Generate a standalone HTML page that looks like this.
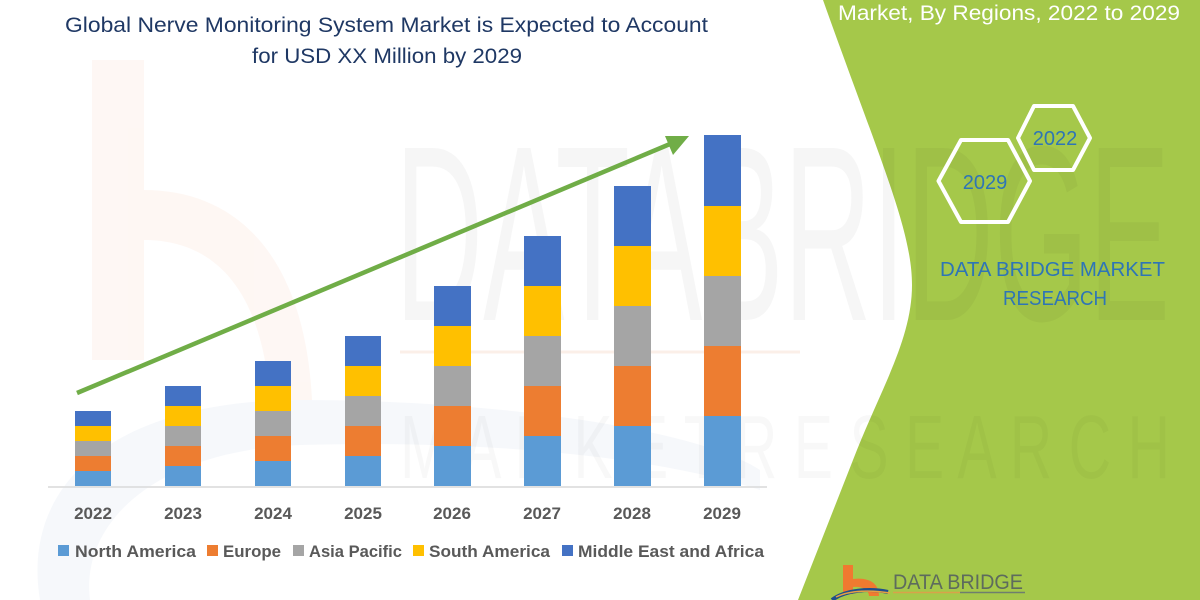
<!DOCTYPE html>
<html><head><meta charset="utf-8"><style>
html,body{margin:0;padding:0;background:#fff;}
svg{display:block;}
</style></head><body>
<svg width="1200" height="600" viewBox="0 0 1200 600" xmlns="http://www.w3.org/2000/svg" font-family="Liberation Sans, sans-serif">
<rect width="1200" height="600" fill="#ffffff"/>
<!-- faint background logo -->
<g opacity="0.35">
<rect x="92" y="60" width="52" height="300" fill="#fde9df"/>
<path d="M144,190 C240,190 305,260 312,400 L270,400 C262,290 215,240 144,240 Z" fill="#fde9df"/>
<path d="M40,600 C20,480 120,400 300,400 C500,400 700,430 760,470 L760,490 C650,455 480,440 300,445 C160,450 80,520 90,600 Z" fill="#e6ecf4"/>
</g>
<!-- green panel -->
<path d="M798,600 L853,460 C880,390 912,340 912,285 C912,230 880,160 823,0 L1200,0 L1200,600 Z" fill="#a5c84a"/>
<!-- watermark -->
<text x="395" y="320" font-size="250" fill="#000" opacity="0.03" textLength="775" lengthAdjust="spacingAndGlyphs">DATABRIDGE</text>
<text x="400" y="478" font-size="90" fill="#000" opacity="0.025" textLength="770" lengthAdjust="spacingAndGlyphs">M A R K E T  R E S E A R C H</text>
<line x1="400" y1="352" x2="800" y2="352" stroke="#f7d9c8" stroke-width="3" opacity="0.4"/>
<!-- title -->
<text x="65" y="32" font-size="21" fill="#1f3864" textLength="643" lengthAdjust="spacingAndGlyphs">Global Nerve Monitoring System Market is Expected to Account</text>
<text x="252" y="63" font-size="21" fill="#1f3864" textLength="270" lengthAdjust="spacingAndGlyphs">for USD XX Million by 2029</text>
<!-- right title -->
<text x="838" y="20" font-size="21" fill="#ffffff" textLength="342" lengthAdjust="spacingAndGlyphs">Market, By Regions, 2022 to 2029</text>
<!-- hexagons -->
<path d="M1018,138 L1034,106 L1073,106 L1090,138 L1073,170 L1034,170 Z" fill="none" stroke="#ffffff" stroke-width="4" stroke-linejoin="round"/>
<path d="M938.5,181 L961,140 L1008,140 L1030,181 L1008,222 L961,222 Z" fill="none" stroke="#ffffff" stroke-width="4" stroke-linejoin="round"/>
<text x="1055" y="145" font-size="20" fill="#2e75b6" text-anchor="middle">2022</text>
<text x="985" y="189" font-size="20" fill="#2e75b6" text-anchor="middle">2029</text>
<text x="940" y="276" font-size="20" fill="#2e75b6" textLength="225" lengthAdjust="spacingAndGlyphs">DATA BRIDGE MARKET</text>
<text x="1003" y="305" font-size="20" fill="#2e75b6" textLength="104" lengthAdjust="spacingAndGlyphs">RESEARCH</text>
<!-- axis -->
<line x1="48" y1="487" x2="767" y2="487" stroke="#d9d9d9" stroke-width="1.5"/>
<!-- bars -->
<g id="bars">
<rect x="75" y="471" width="36" height="15" fill="#5b9bd5"/><rect x="75" y="456" width="36" height="15" fill="#ed7d31"/><rect x="75" y="441" width="36" height="15" fill="#a5a5a5"/><rect x="75" y="426" width="36" height="15" fill="#ffc000"/><rect x="75" y="411" width="36" height="15" fill="#4472c4"/>
<rect x="165" y="466" width="36" height="20" fill="#5b9bd5"/><rect x="165" y="446" width="36" height="20" fill="#ed7d31"/><rect x="165" y="426" width="36" height="20" fill="#a5a5a5"/><rect x="165" y="406" width="36" height="20" fill="#ffc000"/><rect x="165" y="386" width="36" height="20" fill="#4472c4"/>
<rect x="255" y="461" width="36" height="25" fill="#5b9bd5"/><rect x="255" y="436" width="36" height="25" fill="#ed7d31"/><rect x="255" y="411" width="36" height="25" fill="#a5a5a5"/><rect x="255" y="386" width="36" height="25" fill="#ffc000"/><rect x="255" y="361" width="36" height="25" fill="#4472c4"/>
<rect x="345" y="456" width="36" height="30" fill="#5b9bd5"/><rect x="345" y="426" width="36" height="30" fill="#ed7d31"/><rect x="345" y="396" width="36" height="30" fill="#a5a5a5"/><rect x="345" y="366" width="36" height="30" fill="#ffc000"/><rect x="345" y="336" width="36" height="30" fill="#4472c4"/>
<rect x="434" y="446" width="37" height="40" fill="#5b9bd5"/><rect x="434" y="406" width="37" height="40" fill="#ed7d31"/><rect x="434" y="366" width="37" height="40" fill="#a5a5a5"/><rect x="434" y="326" width="37" height="40" fill="#ffc000"/><rect x="434" y="286" width="37" height="40" fill="#4472c4"/>
<rect x="524" y="436" width="37" height="50" fill="#5b9bd5"/><rect x="524" y="386" width="37" height="50" fill="#ed7d31"/><rect x="524" y="336" width="37" height="50" fill="#a5a5a5"/><rect x="524" y="286" width="37" height="50" fill="#ffc000"/><rect x="524" y="236" width="37" height="50" fill="#4472c4"/>
<rect x="614" y="426" width="37" height="60" fill="#5b9bd5"/><rect x="614" y="366" width="37" height="60" fill="#ed7d31"/><rect x="614" y="306" width="37" height="60" fill="#a5a5a5"/><rect x="614" y="246" width="37" height="60" fill="#ffc000"/><rect x="614" y="186" width="37" height="60" fill="#4472c4"/>
<rect x="704" y="416" width="37" height="70" fill="#5b9bd5"/><rect x="704" y="346" width="37" height="70" fill="#ed7d31"/><rect x="704" y="276" width="37" height="70" fill="#a5a5a5"/><rect x="704" y="206" width="37" height="70" fill="#ffc000"/><rect x="704" y="135" width="37" height="71" fill="#4472c4"/>
</g>
<!-- arrow -->
<line x1="77" y1="393" x2="670" y2="144" stroke="#70ad47" stroke-width="4.5"/>
<polygon points="689,136 665,136 673,155" fill="#70ad47"/>
<!-- year labels -->
<g font-size="17" font-weight="bold" fill="#595959" text-anchor="middle">
<text x="93" y="519">2022</text><text x="183" y="519">2023</text><text x="273" y="519">2024</text><text x="363" y="519">2025</text><text x="452" y="519">2026</text><text x="542" y="519">2027</text><text x="632" y="519">2028</text><text x="722" y="519">2029</text>
</g>
<!-- legend -->
<g font-size="17" font-weight="bold" fill="#595959">
<rect x="58" y="545" width="11" height="11" fill="#5b9bd5"/><text x="75" y="557" textLength="121" lengthAdjust="spacingAndGlyphs">North America</text>
<rect x="207" y="545" width="11" height="11" fill="#ed7d31"/><text x="223" y="557" textLength="58" lengthAdjust="spacingAndGlyphs">Europe</text>
<rect x="293" y="545" width="11" height="11" fill="#a5a5a5"/><text x="309" y="557" textLength="93" lengthAdjust="spacingAndGlyphs">Asia Pacific</text>
<rect x="413" y="545" width="11" height="11" fill="#ffc000"/><text x="429" y="557" textLength="121" lengthAdjust="spacingAndGlyphs">South America</text>
<rect x="562" y="545" width="11" height="11" fill="#4472c4"/><text x="578" y="557" textLength="186" lengthAdjust="spacingAndGlyphs">Middle East and Africa</text>
</g>
<!-- bottom logo -->
<path d="M843,565 L853,565 L853,579 C870,577 879,584 879,596 L869,596 C869,590 862,586 853,587 L853,594 L843,594 Z" fill="#f07a30"/>
<path d="M832,600 C845,590 870,588 888,592" fill="none" stroke="#1f4e8c" stroke-width="4"/>
<path d="M836,597 C850,590 872,590 890,593" fill="none" stroke="#e8a040" stroke-width="1.5"/>
<text x="893" y="589" font-size="21" fill="#5d6b5d" textLength="130" lengthAdjust="spacingAndGlyphs">DATA BRIDGE</text>
<line x1="893" y1="592.5" x2="960" y2="592.5" stroke="#d9a24a" stroke-width="1.5"/>
<line x1="960" y1="592.5" x2="1025" y2="592.5" stroke="#6e7e6e" stroke-width="1.5"/>
</svg>
</body></html>
